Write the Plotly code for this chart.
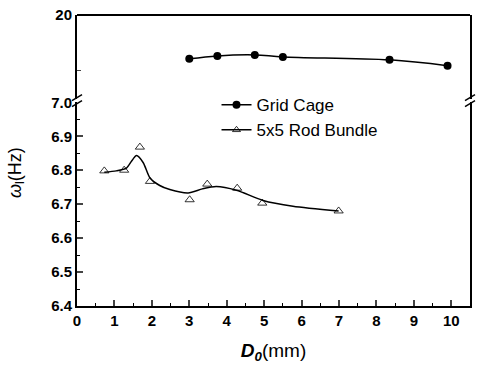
import plotly.graph_objects as go

# Grid cage measurements (upper, broken-axis segment)
grid_d0 = [3.0, 3.75, 4.75, 5.5, 8.35, 9.9]
grid_freq = [16.86, 17.07, 17.14, 17.0, 16.79, 16.37]

# 5x5 rod bundle measurements (lower segment)
rod_d0 = [0.73, 1.26, 1.68, 1.95, 3.01, 3.48, 4.28, 4.95, 6.99]
rod_freq = [6.798, 6.80, 6.868, 6.767, 6.713, 6.759, 6.747, 6.703, 6.68]

# Smoothed trend curve for the rod bundle
fit_d0 = [0.73, 1.05, 1.32, 1.46, 1.59, 1.77, 1.95, 2.21, 2.48, 2.97,
          3.35, 3.72, 4.26, 4.97, 5.77, 6.99]
fit_freq = [6.794, 6.798, 6.806, 6.827, 6.843, 6.822, 6.777, 6.755, 6.743, 6.733,
            6.745, 6.752, 6.741, 6.711, 6.694, 6.68]

x_ticks = list(range(0, 11))
lower_ticks = [6.4, 6.5, 6.6, 6.7, 6.8, 6.9, 7.0]

FONT = "Liberation Sans, Arial, sans-serif"
split_lo, split_hi = 0.700, 0.712

fig = go.Figure()

fig.add_trace(go.Scatter(
    x=grid_d0, y=grid_freq, yaxis="y2", name="Grid Cage",
    mode="lines+markers", line=dict(color="black", width=1.5, shape="spline"),
    marker=dict(symbol="circle", size=8, color="black"),
))
fig.add_trace(go.Scatter(
    x=rod_d0, y=rod_freq, name="5x5 Rod Bundle",
    mode="markers", marker=dict(symbol="triangle-up-open", size=8,
                                color="black", line=dict(width=0.8)),
    legendgroup="rod", showlegend=False,
))
fig.add_trace(go.Scatter(
    x=fit_d0, y=fit_freq, name="5x5 Rod Bundle",
    mode="lines", line=dict(color="black", width=1.5, shape="spline", smoothing=0.7),
    legendgroup="rod", showlegend=False,
))
# legend entry: line with open triangle
fig.add_trace(go.Scatter(
    x=[None], y=[None], name="5x5 Rod Bundle",
    mode="lines+markers", line=dict(color="black", width=1.5),
    marker=dict(symbol="triangle-up-open", size=7, color="black", line=dict(width=0.8)),
    legendgroup="rod",
))

tickfont = dict(family=FONT, size=15, color="black", weight="bold")

fig.update_layout(
    width=478, height=367,
    margin=dict(l=77, r=6, t=14, b=61),
    paper_bgcolor="white", plot_bgcolor="white",
    showlegend=True,
    legend=dict(x=0.355, y=0.752, xanchor="left", yanchor="top",
                font=dict(family=FONT, size=17, color="black"),
                bgcolor="rgba(0,0,0,0)", tracegroupgap=0, itemwidth=30),
    xaxis=dict(range=[0, 10.5], tickvals=x_ticks, ticks="inside", ticklen=6,
               tickwidth=1.5, linecolor="black", linewidth=2, showline=True,
               showgrid=False, zeroline=False, tickfont=tickfont,
               minor=dict(dtick=0.5, ticks="inside", ticklen=3, tickwidth=1.2,
                          tickcolor="black"),
               title=dict(text="<b><i>D<sub>0</sub></i></b>(mm)", standoff=16,
                          font=dict(family=FONT, size=19, color="black"))),
    yaxis=dict(domain=[0, split_lo], range=[6.4, 7.0], tickvals=lower_ticks,
               tickformat=".1f", ticks="inside", ticklen=6, tickwidth=1.5,
               linecolor="black", linewidth=2, showline=True, mirror=True,
               showgrid=False, zeroline=False, tickfont=tickfont,
               minor=dict(dtick=0.05, ticks="inside", ticklen=3, tickwidth=1.2,
                          tickcolor="black")),
    yaxis2=dict(domain=[split_hi, 1], range=[14, 20], tickvals=[16, 20],
                ticktext=["", "20"], ticks="inside", ticklen=4, tickwidth=1.2,
                linecolor="black", linewidth=2, showline=True, mirror=True,
                showgrid=False, zeroline=False, tickfont=tickfont),
)

# y-axis title with Greek omega
fig.add_annotation(
    text="<i>ω</i><sub>l</sub>(Hz)", xref="paper", yref="paper",
    x=-0.19, y=0.46, textangle=-90, showarrow=False,
    font=dict(family=FONT, size=18, color="black"),
)

# top frame line
fig.add_shape(type="line", xref="paper", yref="paper", x0=0, x1=1, y0=1, y1=1,
              line=dict(color="black", width=2))

# axis-break marks on both vertical frame lines
mid = (split_lo + split_hi) / 2
for xp in (0, 1):
    for dy in (-3, 3):
        fig.add_shape(type="line", xref="paper", yref="paper",
                      xsizemode="pixel", ysizemode="pixel",
                      xanchor=xp, yanchor=mid,
                      x0=-5, x1=5, y0=dy - 3, y1=dy + 3,
                      line=dict(color="black", width=1.5))

fig.write_html("out.html")
